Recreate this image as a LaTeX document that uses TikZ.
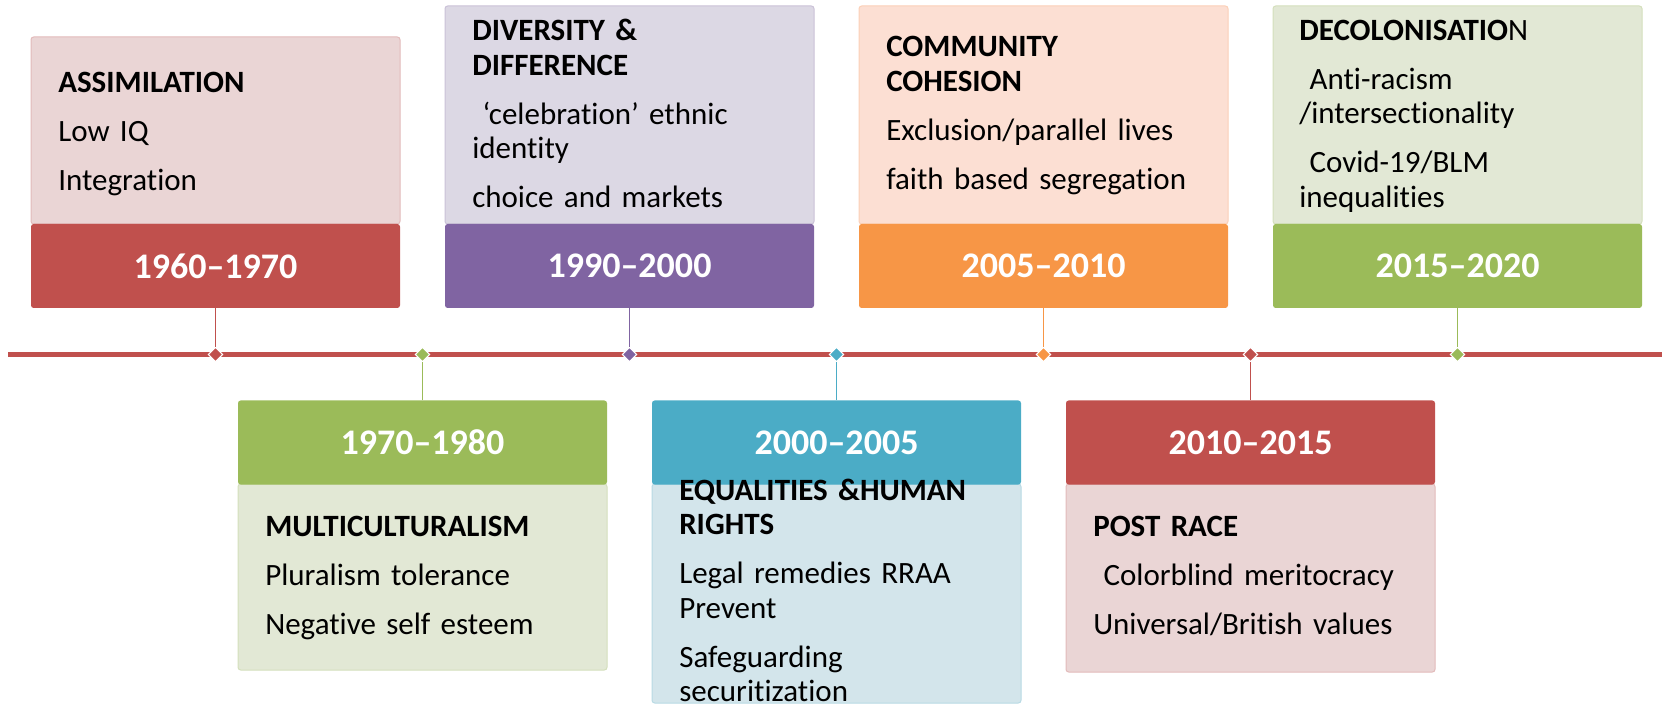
\documentclass[tikz,border=0pt]{standalone}
\usepackage{fontspec}
\setmainfont{Carlito}[Ligatures={TeX,NoCommon}]
\usetikzlibrary{shapes.geometric}

\definecolor{yrred}{HTML}{C0504D}
\definecolor{yrgreen}{HTML}{9BBB59}
\definecolor{yrpurple}{HTML}{8064A2}
\definecolor{yrteal}{HTML}{4BACC6}
\definecolor{yrorange}{HTML}{F79646}
\definecolor{ltred}{HTML}{EAD5D5}
\definecolor{ltgreen}{HTML}{E2E8D5}
\definecolor{ltpurple}{HTML}{DCD8E4}
\definecolor{ltteal}{HTML}{D3E5EB}
\definecolor{ltorange}{HTML}{FCDFD3}

\newcommand{\yearfont}{\fontsize{27}{32}\selectfont\bfseries}
\newcommand{\notefont}{\fontsize{23.25}{25.9}\selectfont}

\begin{document}
\begin{tikzpicture}[x=0.75pt,y=0.75pt,yscale=-1,xscale=1,
  yearbox/.style={rectangle, rounded corners=2pt, minimum width=276.75pt, minimum height=63pt, inner sep=0pt, fill=yr#1, text=white, font=\yearfont},
  notebox/.style={rectangle, rounded corners=2pt, minimum width=276.75pt, inner sep=0pt, fill=lt#1, draw=lt#1!80!yr#1, line width=0.75pt},
  notetext/.style={anchor=north west, inner sep=0pt, align=left, text width=251pt, font=\notefont},
  knot/.style={diamond, inner sep=0pt, minimum size=11pt, fill=yr#1, draw=white, line width=0.75pt},
  stem/.style={draw=yr#1, line width=1pt}]
\useasboundingbox (0,0) rectangle (1662,705);

%Shape: Rectangle 1960-1970
\node[notebox=red, minimum height=140.25pt] (n1960) at (215.5,130.5) {};
\node[yearbox=red] (y1960) at (215.5,266) {1960--1970};
% Text Node
\node[notetext] (t1960) at (58,67.7) {\strut\textbf{ASSIMILATION}\\[10.8pt]Low IQ\\[10.8pt]Integration};

%Shape: Rectangle 1970-1980
\node[notebox=green, minimum height=139.5pt] (n1970) at (422.5,577) {};
\node[yearbox=green] (y1970) at (422.5,442.5) {1970--1980};
% Text Node
\node[notetext] (t1970) at (265,512.4) {\strut\textbf{MULTICULTURALISM}\\[10.8pt]Pluralism tolerance\\[10.8pt]Negative self esteem};

%Shape: Rectangle 1990-2000
\node[notebox=purple, minimum height=163.5pt] (n1990) at (629.5,115) {};
\node[yearbox=purple] (y1990) at (629.5,266) {1990--2000};
% Text Node
\node[notetext] (t1990) at (472,16.4) {\strut\textbf{DIVERSITY \&}\\ \textbf{DIFFERENCE}\\[10.8pt]~`celebration' ethnic\\identity\\[10.8pt]choice and markets};

%Shape: Rectangle 2000-2005
\node[notebox=teal, minimum height=164.25pt] (n2000) at (836.5,593.5) {};
\node[yearbox=teal] (y2000) at (836.5,442.5) {2000--2005};
% Text Node
\node[notetext] (t2000) at (679,475.7) {\strut\textbf{EQUALITIES \&HUMAN}\\ \textbf{RIGHTS}\\[10.8pt]Legal remedies RRAA\\Prevent\\[10.8pt]Safeguarding\\securitization};

%Shape: Rectangle 2005-2010
\node[notebox=orange, minimum height=163.5pt] (n2005) at (1043.5,115) {};
\node[yearbox=orange] (y2005) at (1043.5,266) {2005--2010};
% Text Node
\node[notetext] (t2005) at (886,32.4) {\strut\textbf{COMMUNITY}\\ \textbf{COHESION}\\[10.8pt]Exclusion/parallel lives\\[10.8pt]faith based segregation};

%Shape: Rectangle 2010-2015
\node[notebox=red, minimum height=141pt] (n2010) at (1250.5,578) {};
\node[yearbox=red] (y2010) at (1250.5,442.5) {2010--2015};
% Text Node
\node[notetext] (t2010) at (1093,512.4) {\strut\textbf{POST RACE}\\[10.8pt]~Colorblind meritocracy\\[10.8pt]Universal/British values};

%Shape: Rectangle 2015-2020
\node[notebox=green, minimum height=163.5pt] (n2015) at (1457.5,115) {};
\node[yearbox=green] (y2015) at (1457.5,266) {2015--2020};
% Text Node
\node[notetext] (t2015) at (1299,15.7) {\strut\textbf{DECOLONISATIO}N\\[10.8pt]~Anti-racism\\/intersectionality\\[10.8pt]~Covid-19/BLM\\inequalities};

%Straight Lines timeline
\coordinate (tlstart) at (8,354.5);
\coordinate (tlend) at (1662,354.5);
\draw[yrred, line width=3.75pt] (tlstart) -- (tlend);

%Shape: Diamond marks
\node[knot=red] (k1960) at (215.5,354.5) {};
\node[knot=green] (k1970) at (422.5,354.5) {};
\node[knot=purple] (k1990) at (629.5,354.5) {};
\node[knot=teal] (k2000) at (836.5,354.5) {};
\node[knot=orange] (k2005) at (1043.5,354.5) {};
\node[knot=red] (k2010) at (1250.5,354.5) {};
\node[knot=green] (k2015) at (1457.5,354.5) {};

%Straight Lines stems
\draw[stem=red] (y1960) -- (k1960);
\draw[stem=green] (k1970) -- (y1970);
\draw[stem=purple] (y1990) -- (k1990);
\draw[stem=teal] (k2000) -- (y2000);
\draw[stem=orange] (y2005) -- (k2005);
\draw[stem=red] (k2010) -- (y2010);
\draw[stem=green] (y2015) -- (k2015);

\end{tikzpicture}
\end{document}
